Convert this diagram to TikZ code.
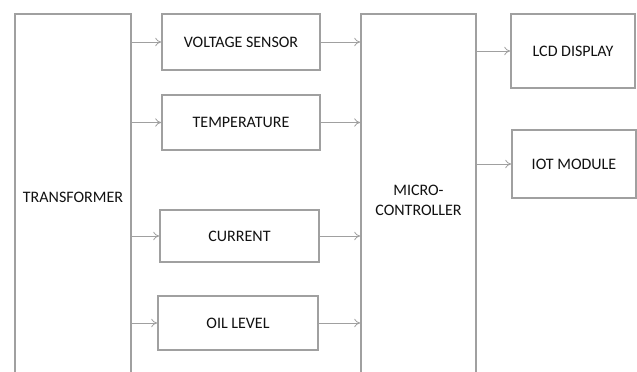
\documentclass[tikz,border=0pt]{standalone}
\usepackage{fontspec}
\setmainfont{Carlito}
\usepackage{xcolor}
\usetikzlibrary{arrows.meta,positioning}
\definecolor{linec}{HTML}{A0A0A0}
\definecolor{txtc}{HTML}{111111}
\tikzset{
  ar/.style={-{To[length=1.6mm,width=2.2mm]},line width=0.6pt,linec},
  box/.style={draw=linec,line width=1.1pt,fill=white,align=center,inner sep=2pt,text=txtc,font=\fontsize{12}{15}\selectfont}
}
\begin{document}
\begin{tikzpicture}[x=0.75pt,y=-0.75pt]
\clip (0,0) rectangle (637,372);
\fill[white] (0,0) rectangle (637,372);
\node[box,minimum width=116*0.75pt,minimum height=366*0.75pt] (trans) at (73,197) {TRANSFORMER};
\node[box,minimum width=158*0.75pt,minimum height=56*0.75pt] (volt) at (241,42) {VOLTAGE SENSOR};
\node[box,minimum width=158*0.75pt,minimum height=55*0.75pt] (temp) at (241,122.5) {TEMPERATURE};
\node[box,minimum width=159*0.75pt,minimum height=52*0.75pt] (curr) at (239.5,236) {CURRENT};
\node[box,minimum width=160*0.75pt,minimum height=54*0.75pt] (oil) at (238,323) {OIL LEVEL};
\node[box,minimum width=115*0.75pt,minimum height=372*0.75pt] (mcu) at (418.5,200) {MICRO-\\CONTROLLER};
\node[box,minimum width=124*0.75pt,minimum height=74*0.75pt] (lcd) at (573,51) {LCD DISPLAY};
\node[box,minimum width=124*0.75pt,minimum height=68*0.75pt] (iot) at (574,164) {IOT MODULE};
% sensors in
\draw[ar] (trans.east |- volt.west) -- (volt.west);
\draw[ar] (trans.east |- temp.west) -- (temp.west);
\draw[ar] (trans.east |- curr.west) -- (curr.west);
\draw[ar] (trans.east |- oil.west) -- (oil.west);
% sensors to controller
\draw[ar] (volt.east) -- (mcu.west |- volt.east);
\draw[ar] (temp.east) -- (mcu.west |- temp.east);
\draw[ar] (curr.east) -- (mcu.west |- curr.east);
\draw[ar] (oil.east) -- (mcu.west |- oil.east);
% outputs
\draw[ar] (mcu.east |- lcd.west) -- (lcd.west);
\draw[ar] (mcu.east |- iot.west) -- (iot.west);
\end{tikzpicture}
\end{document}
